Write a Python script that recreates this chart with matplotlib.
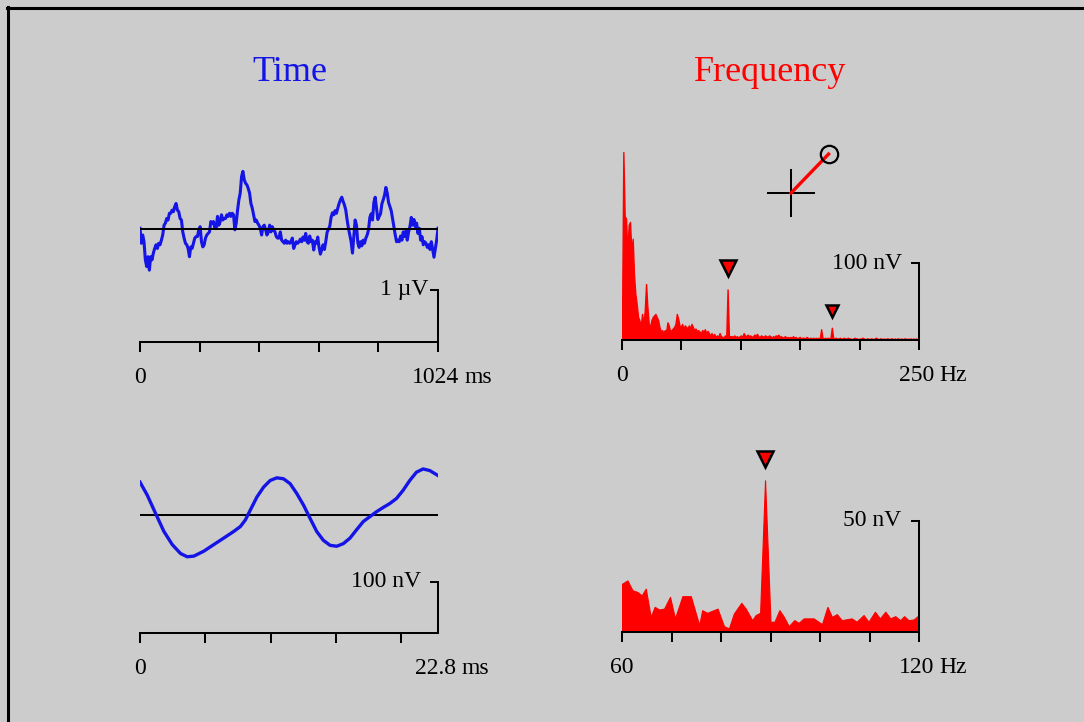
import numpy as np
import matplotlib
matplotlib.use("Agg")
import matplotlib.pyplot as plt
from matplotlib.lines import Line2D
from matplotlib.transforms import offset_copy

plt.rcParams['font.family'] = ['Liberation Serif', 'DejaVu Serif']

W, H = 1084, 722
BG = '#cccccc'
BLUE = '#1414e6'
RED = '#ff0000'

# ---- data ----
# top left: raw EEG, 1024 ms, in uV
eeg_ms_end = 1024
eeg_uv = [
    0.02, -0.27, -0.11, -0.24, -0.59, -0.72, -0.53, -0.79, -0.53, -0.59,
    -0.46, -0.37, -0.30, -0.37, -0.27, -0.30, -0.21, -0.11, 0.08, 0.12,
    0.21, 0.18, 0.31, 0.31, 0.37, 0.34, 0.44, 0.50, 0.37, 0.34,
    0.21, 0.18, -0.05, -0.17, -0.27, -0.30, -0.37, -0.53, -0.34, -0.37,
    -0.27, -0.17, -0.14, -0.14, -0.01, 0.05, -0.24, -0.34, -0.30, -0.17,
    -0.11, -0.08, -0.05, 0.15, 0.12, 0.15, 0.02, 0.02, 0.25, 0.08,
    0.15, 0.28, 0.18, 0.21, 0.21, 0.28, 0.25, 0.31, 0.25, 0.31,
    0.28, -0.01, 0.12, 0.37, 0.57, 0.70, 1.02, 1.12, 0.96, 0.89,
    0.86, 0.79, 0.70, 0.50, 0.41, 0.28, 0.15, 0.18, 0.12, 0.08,
    0.02, -0.11, 0.05, 0.08, -0.01, -0.11, -0.05, 0.08, -0.05, 0.05,
    -0.01, -0.05, -0.14, -0.17, -0.17, -0.05, -0.21, -0.24, -0.27, -0.21,
    -0.27, -0.24, -0.27,
    -0.24, -0.17, -0.37, -0.30, -0.24, -0.27, -0.24, -0.19, -0.24, -0.15,
    -0.21, -0.08, -0.24, -0.27, -0.13, -0.24, -0.21, -0.40, -0.24, -0.27,
    -0.15, -0.35, -0.48, -0.39, -0.30, -0.39, -0.24, -0.06, 0.00, 0.06,
    0.23, 0.32, 0.28, 0.36, 0.31, 0.41, 0.50, 0.57, 0.62, 0.54,
    0.47, 0.37, 0.18, 0.02, -0.11, -0.24, -0.46, -0.13, 0.18, 0.08,
    -0.26, -0.35, -0.24, -0.32, -0.21, -0.27, -0.17, -0.11, -0.01, 0.23,
    0.30, 0.18, 0.52, 0.62, 0.41, 0.19, 0.25, 0.30, 0.49, 0.57,
    0.66, 0.81, 0.70, 0.52, 0.44, 0.36, 0.21, 0.05, -0.11, -0.24,
    -0.21, -0.24, -0.13, -0.21, -0.05, -0.14, -0.03, -0.21, -0.05, 0.05,
    0.23, 0.08, 0.19, 0.05, 0.12, -0.08, 0.02, -0.21, -0.14, -0.30,
    -0.24, -0.27, -0.35, -0.30, -0.39, -0.24, -0.39, -0.54, -0.37, -0.21,
    0.02,
]

# top right: amplitude spectrum 0-250 Hz, nV
spec_df = 1.125
spec_nv = [
    17, 245, 162, 158, 115, 150, 154, 115, 132, 85,
    60, 47, 30, 26, 17, 34, 21, 38, 73, 43,
    21, 17, 26, 30, 32, 34, 30, 26, 17, 11,
    13, 9, 13, 11, 23, 19, 11, 13, 15, 17,
    21, 34, 28, 19, 17, 21, 15, 19, 17, 15,
    19, 15, 21, 17, 13, 15, 11, 13, 11, 9,
    13, 11, 14, 9, 12, 9, 6, 9, 5, 8,
    4, 6, 4, 9, 5, 4, 3, 6, 4, 66,
    5, 5,
    5, 4, 6, 4, 5, 3, 5, 6, 4,
    9, 6, 5, 7, 5,
    6, 4, 5, 7, 6, 8, 5, 4, 6, 5,
    4, 6, 5, 4, 6, 5, 3, 5, 4, 6,
    5, 7, 4, 5, 3, 4, 5, 3, 4, 3,
    4, 3, 5, 3, 4, 2, 3, 4, 2, 3,
    3, 2, 4, 3, 2, 3, 2, 3, 2, 3,
    2, 3, 2, 14, 3,
    2, 3, 2, 3, 2, 3,
    16,
    3, 2, 3, 2, 2, 3, 2, 2,
    3, 2, 2, 3, 2, 2, 1, 2, 3, 2,
    2, 1, 2, 2, 3, 2, 1, 2, 2, 1,
    2, 2, 1, 2, 3, 2, 1, 2, 2, 1,
    2, 1, 2, 2, 1, 2, 2, 1, 2, 1,
    2, 2, 1, 2, 1, 2, 2, 1, 2, 1,
    2, 1, 2, 1, 2, 1, 2,
]
spec_marks_hz = [88.9, 176.6]

# bottom left: averaged response over 22.8 ms, nV
avg_ms = [0.00, 0.56, 1.19, 1.83, 2.47, 3.10, 3.61, 4.12, 4.88, 5.64,
          6.41, 7.17, 7.68, 8.06, 8.44, 8.95, 9.46, 9.96, 10.47, 10.98,
          11.49, 12.00, 12.51, 13.01, 13.52, 14.03, 14.54, 15.05, 15.56, 16.07,
          16.57, 17.08, 17.59, 18.10, 18.61, 19.12, 19.62, 20.13, 20.64, 21.15,
          21.66, 22.17, 22.80]
avg_nv = [64.5, 38.7, 3.2, -32.3, -58.1, -75.5, -81.9, -80.6, -71.0, -58.1,
          -45.2, -32.3, -22.6, -9.7, 9.7, 35.5, 54.8, 67.7, 72.9, 71.0,
          61.3, 41.9, 19.4, -6.5, -32.3, -49.7, -59.4, -61.3, -56.1, -45.2,
          -29.0, -12.9, -3.2, 6.5, 14.8, 22.6, 32.3, 48.4, 67.7, 83.9,
          90.3, 87.1, 77.4]

# bottom right: zoomed spectrum 60-120 Hz, nV
zoom_hz = [60.0, 61.1, 62.1, 63.1, 64.0, 64.8, 65.8, 66.6, 67.5, 68.5,
           69.7, 70.7, 72.2, 73.9, 75.6, 76.2, 77.2, 79.3, 80.6, 81.6,
           82.6, 84.1, 85.0, 86.3, 87.0, 87.9, 88.9, 90.0, 90.8, 91.8,
           92.7, 93.7, 94.8, 95.7, 96.7, 98.7, 100.4, 101.5, 102.4, 103.4,
           104.4, 106.4, 107.4, 108.8, 109.8, 111.1, 112.1, 113.2, 114.2, 115.2,
           116.2, 117.0, 117.9, 118.9, 120.0]
zoom_nv = [21.6, 23.1, 18.7, 17.9, 16.4, 19.4, 6.7, 11.2, 10.0, 10.4,
           15.7, 6.0, 16.0, 16.0, 3.0, 9.7, 8.5, 10.4, 2.5, 1.5,
           8.2, 13.0, 10.4, 5.2, 7.5, 8.5, 68.2, 4.5, 4.5, 9.7,
           6.7, 2.5, 5.2, 4.0, 6.0, 6.0, 3.4, 11.2, 6.7, 7.9,
           5.2, 6.0, 4.5, 7.5, 4.5, 9.0, 6.0, 9.0, 6.0, 7.0,
           5.2, 7.0, 5.2, 5.5, 7.5]
zoom_marks_hz = [88.9]

# phasor icon
phasor_len = 2.35
phasor_deg = 46

FS = 17
LW = 1.45


def panel(x0, x1, axis_px, top_px, ylo, unit_px):
    # axes whose bottom edge is the x axis line; unit_px = pixels per data unit
    ax = fig.add_axes([x0 / W, 1 - axis_px / H, (x1 - x0) / W, (axis_px - top_px) / H])
    ax.set_facecolor('none')
    ax.set_ylim(ylo, ylo + (axis_px - top_px) / unit_px)
    return ax


def frame(ax, xlim, ticks, bar, bar_label, lab_off, end_num, unit, start_num):
    ax.set_xlim(*xlim)
    for s in ['top', 'left']:
        ax.spines[s].set_visible(False)
    ax.spines['bottom'].set_linewidth(LW)
    ax.spines['right'].set_linewidth(LW)
    ylo = ax.get_ylim()[0]
    ax.spines['right'].set_bounds(ylo, ylo + bar)
    ax.set_xticks(ticks)
    ax.set_yticks([ylo + bar])
    ax.yaxis.tick_right()
    ax.tick_params(axis='x', direction='out', length=7.5, width=LW, labelbottom=False)
    ax.tick_params(axis='y', direction='in', length=5.8, width=LW, labelright=False)
    ax.annotate(bar_label, xy=(xlim[1], ylo + bar), xytext=(-lab_off, 0),
                textcoords='offset points', ha='right', va='center', fontsize=FS)
    ax.annotate(start_num, xy=(xlim[0], ylo), xytext=(0, -29.5),
                textcoords='offset points', ha='center', va='baseline', fontsize=FS)
    num = ax.annotate(end_num, xy=(xlim[1], ylo), xytext=(-1.5, -29.5),
                      textcoords='offset points', ha='center', va='baseline', fontsize=FS)
    ax.annotate(unit, xy=(1, 0), xycoords=num, xytext=(3.5, 0),
                textcoords='offset points', ha='left', va='bottom', fontsize=FS)


fig = plt.figure(figsize=(W / 100, H / 100), dpi=100, facecolor=BG)

fig.text(290 / W, 1 - 81 / H, 'Time', color=BLUE, fontsize=26, ha='center', va='baseline')
fig.text(770 / W, 1 - 81 / H, 'Frequency', color=RED, fontsize=26, ha='center', va='baseline')

# top left: raw trace
ax = panel(140, 438, 341.7, 140, -(341.7 - 229.3) / 51.7, 51.7)
t = np.linspace(0, eeg_ms_end, len(eeg_uv))
ax.plot(t, eeg_uv, color=BLUE, lw=2.2, zorder=2)
ax.axhline(0, color='black', lw=LW, zorder=3)
frame(ax, (0, eeg_ms_end), np.linspace(0, eeg_ms_end, 6), 1.0, '1 \u00b5V', 7,
      '1024', 'ms', '0')

# top right: spectrum
ax = panel(622, 919, 340, 140, 0, 0.767)
f = np.arange(len(spec_nv)) * spec_df
ax.fill_between(f, 0, spec_nv, color=RED, lw=1.0, edgecolor=RED)
sizes = [11, 9]
offs = [16, 12]
for fm, ms, off in zip(spec_marks_hz, sizes, offs):
    tr = offset_copy(ax.transData, fig=fig, x=0, y=off, units='points')
    ax.plot([fm], [np.interp(fm, f, spec_nv)], marker='v', ms=ms, mfc=RED,
            mec='black', mew=1.8, transform=tr, clip_on=False)
frame(ax, (0, 250), np.arange(0, 251, 50), 100, '100 nV', 12, '250', 'Hz', '0')

# phasor icon
axp = fig.add_axes([(791 - 55) / W, 1 - (193 + 55) / H, 110 / W, 110 / H])
axp.set_xlim(-55 / 23, 55 / 23)
axp.set_ylim(-55 / 23, 55 / 23)
axp.axis('off')
axp.plot([-1, 1], [0, 0], color='black', lw=LW)
axp.plot([0, 0], [-1, 1], color='black', lw=LW)
px = phasor_len * np.cos(np.radians(phasor_deg))
py = phasor_len * np.sin(np.radians(phasor_deg))
axp.plot([0, px], [0, py], color=RED, lw=2.4)
axp.plot([px], [py], marker='o', ms=12.5, mfc='none', mec='black', mew=1.6)

# bottom left: averaged response
ax = panel(140, 438, 632.7, 450, -(632.7 - 515) / 0.51, 0.51)
ax.axhline(0, color='black', lw=LW, zorder=1)
ax.plot(avg_ms, avg_nv, color=BLUE, lw=2.4, zorder=2)
frame(ax, (0, 22.8), [0, 5, 10, 15, 20], 100, '100 nV', 12, '22.8', 'ms', '0')

# bottom right: zoomed spectrum
ax = panel(622, 919, 631.7, 440, 0, 2.22)
ax.fill_between(zoom_hz, 0, zoom_nv, color=RED, lw=0.8, edgecolor=RED)
for fm in zoom_marks_hz:
    tr = offset_copy(ax.transData, fig=fig, x=0, y=15, units='points')
    ax.plot([fm], [np.interp(fm, zoom_hz, zoom_nv)], marker='v', ms=11, mfc=RED,
            mec='black', mew=1.8, transform=tr, clip_on=False)
frame(ax, (60, 120), np.arange(60, 121, 10), 50, '50 nV', 13, '120', 'Hz', '60')

# black edge on the left and top
fig.add_artist(Line2D([7 / W, 1], [1 - 8 / H, 1 - 8 / H], color='black', lw=2.2))
fig.add_artist(Line2D([8 / W, 8 / W], [0, 1 - 7 / H], color='black', lw=2.2))

fig.savefig('out.png', dpi=100, facecolor=BG)
